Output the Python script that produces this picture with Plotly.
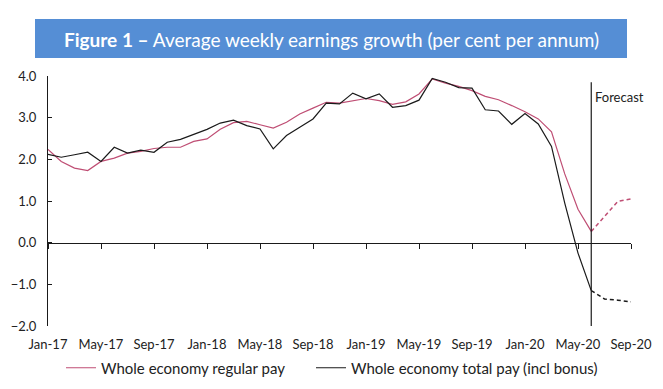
import plotly.graph_objects as go

# ---- data (3-month average growth, % per annum), monthly Jan-17 .. Jun-20 ----
months_actual = list(range(0, 42))  # 0 = Jan-17 ... 41 = Jun-20
regular_pay = [2.24, 1.95, 1.79, 1.73, 1.95, 2.03, 2.15, 2.19, 2.26, 2.29,
               2.29, 2.43, 2.49, 2.72, 2.88, 2.91, 2.83, 2.75, 2.89, 3.09,
               3.23, 3.37, 3.35, 3.41, 3.46, 3.41, 3.32, 3.38, 3.57, 3.93,
               3.83, 3.75, 3.65, 3.51, 3.43, 3.29, 3.14, 2.97, 2.66, 1.65,
               0.80, 0.27]
total_pay = [2.12, 2.05, 2.11, 2.17, 1.95, 2.29, 2.15, 2.22, 2.17, 2.41,
             2.48, 2.60, 2.72, 2.87, 2.94, 2.81, 2.73, 2.25, 2.57, 2.77,
             2.97, 3.35, 3.33, 3.59, 3.45, 3.57, 3.25, 3.29, 3.42, 3.94,
             3.85, 3.72, 3.71, 3.19, 3.16, 2.84, 3.10, 2.85, 2.31, 0.95,
             -0.25, -1.15]
# forecast Jun-20 .. Sep-20
months_forecast = [41, 42, 43, 44]
regular_forecast = [0.27, 0.63, 0.99, 1.05]
total_forecast = [-1.15, -1.35, -1.38, -1.42]

tick_vals = [0, 4, 8, 12, 16, 20, 24, 28, 32, 36, 40, 44]
tick_text = ["Jan-17", "May-17", "Sep-17", "Jan-18", "May-18", "Sep-18",
             "Jan-19", "May-19", "Sep-19", "Jan-20", "May-20", "Sep-20"]
forecast_month = 41

PINK = "#BF4E74"
BLACK = "#1A1A1A"
FONT = "Lato"

fig = go.Figure()
fig.add_trace(go.Scatter(x=months_actual, y=regular_pay, mode="lines",
                         line=dict(color=PINK, width=1.2),
                         name="Whole economy regular pay", legend="legend"))
fig.add_trace(go.Scatter(x=months_actual, y=total_pay, mode="lines",
                         line=dict(color=BLACK, width=1.2),
                         name="Whole economy total pay (incl bonus)", legend="legend2"))
fig.add_trace(go.Scatter(x=months_forecast, y=regular_forecast, mode="lines",
                         line=dict(color=PINK, width=1.5, dash="4px,3px"),
                         showlegend=False))
fig.add_trace(go.Scatter(x=months_forecast, y=total_forecast, mode="lines",
                         line=dict(color=BLACK, width=1.5, dash="4px,3px"),
                         showlegend=False))
# helper trace so the zero-line axis is drawn
fig.add_trace(go.Scatter(x=[0, 44], y=[None, None], xaxis="x2", mode="lines",
                         showlegend=False, hoverinfo="skip"))

# forecast marker
fig.add_shape(type="line", xref="x", yref="y", x0=forecast_month, x1=forecast_month,
              y0=-2.2, y1=3.85, line=dict(color=BLACK, width=1.2))
fig.add_annotation(x=forecast_month, y=3.5, xref="x", yref="y", text="Forecast",
                   showarrow=False, xanchor="left", xshift=2,
                   font=dict(family=FONT, size=13, color="#222222"))

# title banner
fig.add_shape(type="rect", xref="paper", yref="paper",
              x0=(35 - 48) / 583, x1=(627 - 48) / 583,
              y0=(326 - 58) / 250, y1=(326 - 19) / 250,
              fillcolor="#558ED5", line=dict(width=0), layer="below")
fig.add_annotation(xref="paper", yref="paper", x=(331 - 48) / 583, y=(326 - 39) / 250,
                   text="<b>Figure 1 –</b> Average weekly earnings growth (per cent per annum)",
                   showarrow=False, xanchor="center", yanchor="middle",
                   font=dict(family=FONT, size=19, color="white"))

legend_common = dict(orientation="h", yanchor="middle", xanchor="left",
                     yref="container", y=1 - 368 / 389, font=dict(size=15),
                     bgcolor="rgba(0,0,0,0)")

fig.update_layout(
    width=663, height=389,
    margin=dict(l=48, r=32, t=76, b=63),
    paper_bgcolor="white", plot_bgcolor="white",
    font=dict(family=FONT, size=13, color="#222222"),
    xaxis=dict(range=[0, 44], tickvals=tick_vals, ticktext=tick_text,
               showline=False, showgrid=False, zeroline=False, ticks="",
               ticklabelstandoff=9, tickfont=dict(size=13), automargin=False),
    xaxis2=dict(range=[0, 44], overlaying="x", anchor="free", position=1 / 3,
                tickvals=tick_vals, showticklabels=False, showline=True,
                linecolor=BLACK, linewidth=1, ticks="outside", ticklen=5,
                tickcolor=BLACK, showgrid=False, zeroline=False, automargin=False),
    yaxis=dict(range=[-2, 4], dtick=1, tickformat=".1f", showline=True,
               linecolor=BLACK, linewidth=1, ticks="inside", ticklen=4,
               tickcolor=BLACK, showgrid=False, zeroline=False,
               ticklabelstandoff=8, tickfont=dict(size=13), automargin=False),
    legend=dict(x=(61 - 48) / 583, **legend_common),
    legend2=dict(x=(311 - 48) / 583, **legend_common),
    showlegend=True,
)

fig.write_html("out.html", config={"displayModeBar": False},
               post_script="document.body.style.margin='0px';")
